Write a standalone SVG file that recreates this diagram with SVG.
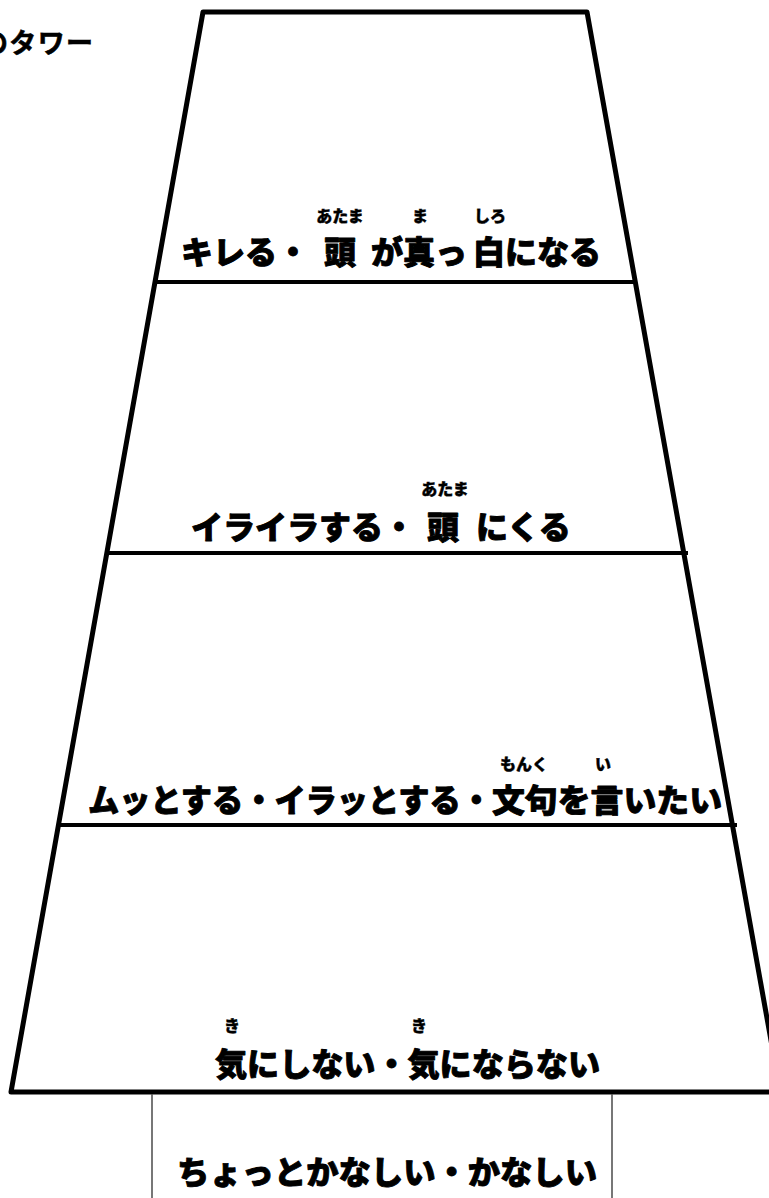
<svg xmlns="http://www.w3.org/2000/svg" width="769" height="1198" viewBox="0 0 769 1198">
<style>
.m{font-family:"Noto Sans CJK JP","Noto Sans",sans-serif;font-weight:900;font-size:32px;fill:#000;stroke:#000;stroke-width:0.9;stroke-linejoin:round}
.r{font-family:"Noto Sans CJK JP","Noto Sans",sans-serif;font-weight:900;font-size:16px;fill:#000;stroke:#000;stroke-width:0.4;text-anchor:middle}
.t{font-family:"Noto Sans CJK JP","Noto Sans",sans-serif;font-weight:700;font-size:27px;fill:#000;stroke:#000;stroke-width:0.6}
.edge{fill:none;stroke:#000;stroke-width:5;stroke-linejoin:round}
.sep{stroke:#000;stroke-width:4}
.thin{stroke:#555;stroke-width:1.6}
</style>
<rect width="769" height="1198" fill="#fff"/>
<g id="title"><text class="t" x="-19" y="53" textLength="112">のタワー</text></g>
<g id="tower">
<path class="edge" d="M787,1092 L11,1092 L203,12 L587,12 L787,1130"/>
<line class="sep" x1="155" y1="282" x2="635" y2="282"/>
<line class="sep" x1="108" y1="553" x2="688" y2="553"/>
<line class="sep" x1="60" y1="825" x2="737" y2="825"/>
</g>
<g id="tier-kireru">
<text class="r" x="340" y="222">あたま</text>
<text class="r" x="420" y="222">ま</text>
<text class="r" x="490" y="222">しろ</text>
<text class="m" y="264"><tspan x="181">キレる・</tspan><tspan x="324">頭</tspan><tspan x="371">が真っ</tspan><tspan x="473">白になる</tspan></text>
</g>
<g id="tier-iraira">
<text class="r" x="445" y="495">あたま</text>
<text class="m" y="539"><tspan x="191">イライラする・</tspan><tspan x="427">頭</tspan><tspan x="476">にくる</tspan></text>
</g>
<g id="tier-mutto">
<text class="r" x="524" y="770">もんく</text>
<text class="r" x="603" y="770">い</text>
<text class="m" x="88" y="812" textLength="404" lengthAdjust="spacingAndGlyphs">ムッとする・イラッとする・</text>
<text class="m" x="492" y="812" textLength="230" lengthAdjust="spacingAndGlyphs">文句を言いたい</text>
</g>
<g id="tier-kinishinai">
<text class="r" x="232" y="1032">き</text>
<text class="r" x="419" y="1032">き</text>
<text class="m" x="215" y="1076" textLength="385" lengthAdjust="spacingAndGlyphs">気にしない・気にならない</text>
</g>
<g id="tier-kanashii">
<line class="thin" x1="152" y1="1094" x2="152" y2="1198"/>
<line class="thin" x1="612" y1="1094" x2="612" y2="1198"/>
<text class="m" x="177" y="1184" textLength="420" lengthAdjust="spacingAndGlyphs">ちょっとかなしい・かなしい</text>
</g>
</svg>
